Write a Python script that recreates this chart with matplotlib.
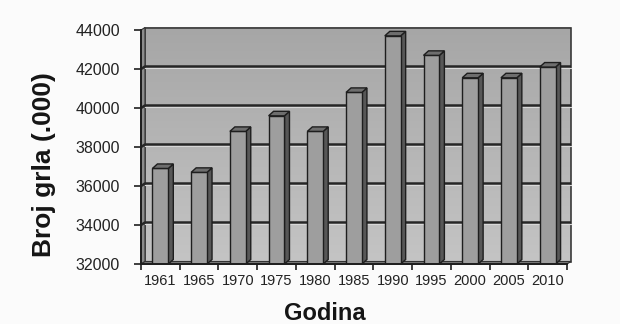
import numpy as np
import matplotlib
matplotlib.use("Agg")
import matplotlib.pyplot as plt
from matplotlib.patches import Polygon, Rectangle

# data
years = ['1961', '1965', '1970', '1975', '1980', '1985', '1990', '1995', '2000', '2005', '2010']
head_count = [36900, 36700, 38800, 39600, 38800, 40800, 43700, 42700, 41550, 41550, 42100]
y_ticks = [32000, 34000, 36000, 38000, 40000, 42000, 44000]

plt.rcParams['font.family'] = ['Liberation Sans', 'DejaVu Sans']

W, H = 620, 324
fig = plt.figure(figsize=(W / 100, H / 100), dpi=100)
fig.patch.set_facecolor('#fbfbfb')

# front axis box in pixels
ax_l, ax_r, ax_b, ax_t = 141, 567, 264, 30
ax = fig.add_axes([ax_l / W, (H - ax_b) / H, (ax_r - ax_l) / W, (ax_b - ax_t) / H])
ax.set_facecolor('none')

n = len(years)
ymin, ymax = 32000, 44000
ax.set_xlim(0, n)
ax.set_ylim(ymin, ymax)

# pixel -> data conversion for the fake 3d depth
px_x = n / (ax_r - ax_l)
px_y = (ymax - ymin) / (ax_b - ax_t)

# back wall depth
wdx, wdy = 4 * px_x, 2.5 * px_y

# wall with a soft vertical gradient
grad = np.linspace(0, 1, 256).reshape(-1, 1)
ax.imshow(grad, cmap=matplotlib.colors.LinearSegmentedColormap.from_list('w', ['#a6a6a6', '#c4c4c4']),
          extent=(wdx, n + wdx, ymin + wdy, ymax + wdy), aspect='auto', origin='upper',
          zorder=0, clip_on=False)
ax.add_patch(Rectangle((wdx, ymin + wdy), n, ymax - ymin, fill=False, ec='#3a3a3a', lw=1.2,
                       zorder=1, clip_on=False))
# left side wall and floor
ax.add_patch(Polygon([(0, ymin), (wdx, ymin + wdy), (wdx, ymax + wdy), (0, ymax)],
                     fc='#8c8c8c', ec='#333333', lw=0.8, zorder=1, clip_on=False))
ax.add_patch(Polygon([(0, ymin), (n, ymin), (n + wdx, ymin + wdy), (wdx, ymin + wdy)],
                     fc='#7a7a7a', ec='#333333', lw=0.8, zorder=1, clip_on=False))

# gridlines on the walls
for yv in y_ticks[1:-1]:
    ax.plot([0, wdx, n + wdx], [yv, yv + wdy, yv + wdy], color='#262626', lw=1.8,
            zorder=2, clip_on=False, solid_capstyle='butt')
    ax.plot([wdx, n + wdx], [yv + wdy - 1.7 * px_y, yv + wdy - 1.7 * px_y], color='#d8d8d8',
            lw=0.8, zorder=2, clip_on=False)

# bars: front face via ax.bar, side and top faces from the same values
bw = 0.41
bdx, bdy = 5 * px_x, 4.5 * px_y
x = np.arange(n) + 0.5
ax.bar(x, [v - ymin for v in head_count], bottom=ymin, width=bw, color='#9e9e9e',
       edgecolor='#1e1e1e', linewidth=1.0, zorder=4)
for xi, v in zip(x, head_count):
    xr = xi + bw / 2
    xl = xi - bw / 2
    ax.add_patch(Polygon([(xr, ymin), (xr + bdx, ymin + bdy), (xr + bdx, v + bdy), (xr, v)],
                         fc='#575757', ec='#1e1e1e', lw=1.0, zorder=3, clip_on=False))
    ax.add_patch(Polygon([(xl, v), (xr, v), (xr + bdx, v + bdy), (xl + bdx, v + bdy)],
                         fc='#6e6e6e', ec='#1e1e1e', lw=1.0, zorder=5, clip_on=False))

# axes styling
for s in ['top', 'right']:
    ax.spines[s].set_visible(False)
ax.spines['left'].set_color('#1e1e1e')
ax.spines['left'].set_linewidth(1.4)
ax.spines['bottom'].set_color('#1e1e1e')
ax.spines['bottom'].set_linewidth(1.4)
ax.spines['left'].set_zorder(6)
ax.spines['bottom'].set_zorder(6)

ax.set_yticks(y_ticks)
ax.set_yticklabels([str(t) for t in y_ticks], fontsize=11.5, color='#222222')
ax.tick_params(axis='y', direction='out', length=5, width=1.2, color='#1e1e1e', pad=10)

ax.set_xticks(x)
ax.set_xticklabels(years, fontsize=10.5, color='#222222')
ax.set_xticks(np.arange(n + 1), minor=True)
ax.tick_params(axis='x', which='major', length=0, pad=7)
ax.tick_params(axis='x', which='minor', direction='out', length=4, width=1.2, color='#1e1e1e')

fig.text(44 / W, 1 - 165 / H, 'Broj grla (.000)', rotation=90, fontsize=19, fontweight='bold',
         ha='center', va='center', color='#151515')
fig.text(325 / W, 1 - 313 / H, 'Godina', fontsize=17, fontweight='bold',
         ha='center', va='center', color='#151515')

fig.savefig('out.png', dpi=100, facecolor=fig.get_facecolor())
